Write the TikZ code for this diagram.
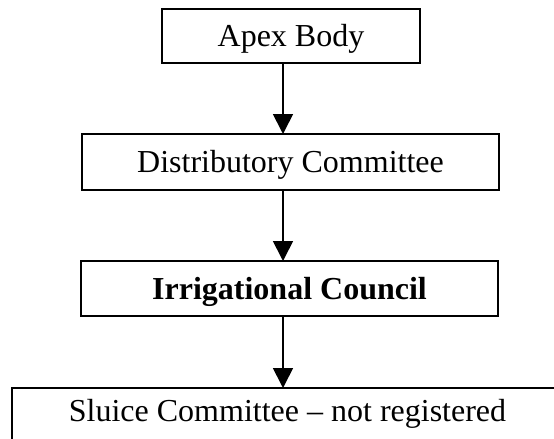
\documentclass[tikz,border=0pt]{standalone}
\usepackage{fontspec}
\setmainfont{Liberation Serif}
\usetikzlibrary{arrows.meta, positioning}

\tikzset{
  orgbox/.style={draw, line width=1.2pt, inner sep=0pt, outer sep=0pt,
    font=\fontsize{24}{28}\selectfont, text height=15.75pt, text depth=0pt},
  down/.style={-{Triangle[width=15pt, length=15pt]}, line width=1.3pt}
}

\begin{document}
\begin{tikzpicture}[x=0.75pt, y=-0.75pt]
  \useasboundingbox (0,0) rectangle (554,439);
  \coordinate (axis) at (283,0);

  \node[orgbox, minimum width=258*0.75pt, minimum height=54*0.75pt]  (apex)    at (291,36)    {Apex Body};
  \node[orgbox, minimum width=417*0.75pt, minimum height=56*0.75pt]  (distcom) at (290.5,162) {Distributory Committee};
  \node[orgbox, minimum width=417*0.75pt, minimum height=55*0.75pt,
        font=\fontsize{24}{28}\selectfont\bfseries]                     (irrcoun) at (289.5,288.5) {Irrigational Council};
  \node[orgbox, minimum width=551*0.75pt, minimum height=66*0.75pt,
        text height=10pt, text depth=10pt]                               (sluice)  at (287.5,421) {Sluice Committee -- not registered};

  \draw[down] (apex.south -| axis)    -- (distcom.north -| axis);
  \draw[down] (distcom.south -| axis) -- (irrcoun.north -| axis);
  \draw[down] (irrcoun.south -| axis) -- (sluice.north -| axis);
\end{tikzpicture}
\end{document}
